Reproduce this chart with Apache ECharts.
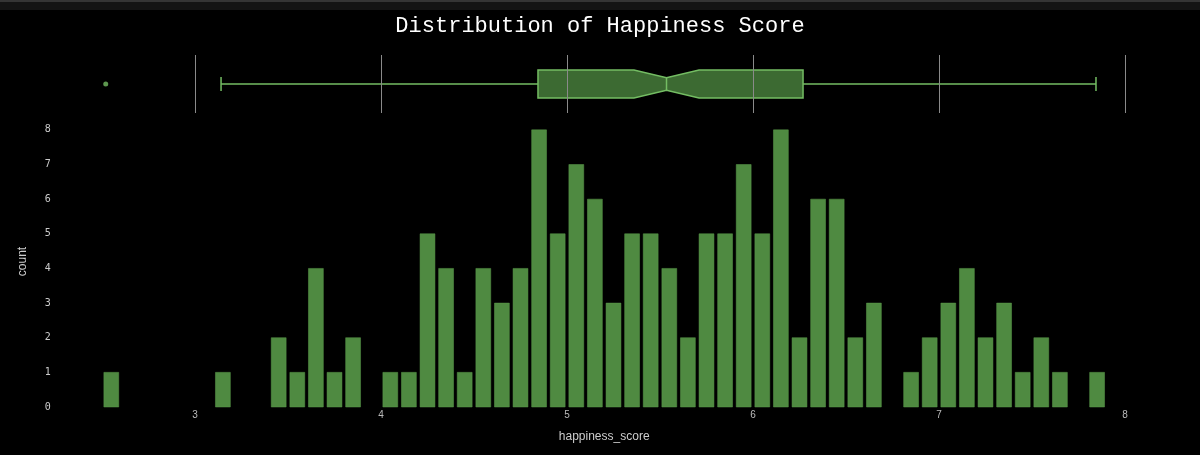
<!DOCTYPE html>
<html>
<head>
<meta charset="utf-8">
<script src="https://cdn.jsdelivr.net/npm/echarts@6/dist/echarts.min.js"></script>
<style>
html,body{margin:0;padding:0;background:#000;}
#chart{width:1200px;height:455px;}
</style>
</head>
<body>
<div id="chart"></div>
<script>
// ---- data ----
const titleText = 'Distribution of Happiness Score';
const xTickValues = [3, 4, 5, 6, 7, 8];
const yTickValues = [0, 1, 2, 3, 4, 5, 6, 7, 8];
const binStarts = [2.5, 2.6, 2.7, 2.8, 2.9, 3.0, 3.1, 3.2, 3.3, 3.4, 3.5, 3.6, 3.7, 3.8, 3.9,
  4.0, 4.1, 4.2, 4.3, 4.4, 4.5, 4.6, 4.7, 4.8, 4.9,
  5.0, 5.1, 5.2, 5.3, 5.4, 5.5, 5.6, 5.7, 5.8, 5.9,
  6.0, 6.1, 6.2, 6.3, 6.4, 6.5, 6.6, 6.7, 6.8, 6.9,
  7.0, 7.1, 7.2, 7.3, 7.4, 7.5, 7.6, 7.7, 7.8];
const binCounts = [1, 0, 0, 0, 0, 0, 1, 0, 0, 2, 1, 4, 1, 2, 0,
  1, 1, 5, 4, 1, 4, 3, 4, 8, 5,
  7, 6, 3, 5, 5, 4, 2, 5, 5, 7,
  5, 8, 2, 6, 6, 2, 3, 0, 1, 2,
  3, 4, 2, 3, 1, 2, 1, 0, 1];
const binWidth = 0.1;
// box stats: [lower whisker, q1, median, q3, upper whisker]
const boxStats = [3.14, 4.844, 5.535, 6.269, 7.844];
const notchBounds = [5.36, 5.71];
const outliers = [2.52];

// ---- chart ----
const chart = echarts.init(document.getElementById('chart'));
const xMin = 2.3, xMax = 8.1;
const gridLeft = 64.8, gridRight = 56.4;
const barColor = '#4f8a41';
const boxFill = '#3c6a32';
const boxStroke = '#74bd63';

const histData = binStarts.map((b, i) => [b, binCounts[i]]);

function renderBar(params, api) {
  const start = api.value(0);
  const cnt = api.value(1);
  if (!cnt) return null;
  const pad = binWidth * 0.1;
  const p0 = api.coord([start + pad, cnt]);
  const p1 = api.coord([start + binWidth - pad, 0]);
  return {
    type: 'rect',
    shape: { x: p0[0], y: p0[1], width: p1[0] - p0[0], height: p1[1] - p0[1] },
    style: { fill: barColor, stroke: '#5a9a4a', lineWidth: 0.5 }
  };
}

function renderBox(params, api) {
  const cy = api.coord([boxStats[2], 0])[1];
  const band = api.size([0, 1])[1];
  const hh = band * 0.24;
  const cap = band * 0.12;
  const nh = band * 0.11;
  const X = v => api.coord([v, 0])[0];
  const xl = X(boxStats[0]), xq1 = X(boxStats[1]), xm = X(boxStats[2]), xq3 = X(boxStats[3]), xu = X(boxStats[4]);
  const n0 = X(notchBounds[0]), n1 = X(notchBounds[1]);
  const lineStyle = { stroke: boxStroke, lineWidth: 1.5, fill: null };
  return {
    type: 'group',
    children: [
      { type: 'line', shape: { x1: xl, y1: cy, x2: xq1, y2: cy }, style: lineStyle },
      { type: 'line', shape: { x1: xq3, y1: cy, x2: xu, y2: cy }, style: lineStyle },
      { type: 'line', shape: { x1: xl, y1: cy - cap, x2: xl, y2: cy + cap }, style: lineStyle },
      { type: 'line', shape: { x1: xu, y1: cy - cap, x2: xu, y2: cy + cap }, style: lineStyle },
      {
        type: 'polygon',
        shape: {
          points: [
            [xq1, cy - hh], [n0, cy - hh], [xm, cy - nh], [n1, cy - hh], [xq3, cy - hh],
            [xq3, cy + hh], [n1, cy + hh], [xm, cy + nh], [n0, cy + hh], [xq1, cy + hh]
          ]
        },
        style: { fill: boxFill, stroke: boxStroke, lineWidth: 1.5 }
      },
      { type: 'line', shape: { x1: xm, y1: cy - nh, x2: xm, y2: cy + nh }, style: lineStyle }
    ]
  };
}

const option = {
  backgroundColor: '#000',
  animation: false,
  title: {
    text: titleText,
    left: 'center',
    top: 10,
    textStyle: { color: '#ffffff', fontFamily: 'Liberation Mono', fontSize: 22, fontWeight: 'normal' }
  },
  graphic: [
    { type: 'rect', left: 0, top: 0, shape: { width: 1200, height: 10 }, style: { fill: '#141414' }, z: 100 },
    { type: 'rect', left: 0, top: 0, shape: { width: 1200, height: 2 }, style: { fill: '#353535' }, z: 101 }
  ],
  grid: [
    { left: gridLeft, right: gridRight, top: 116, bottom: 48 },
    { left: gridLeft, right: gridRight, top: 55, height: 58 }
  ],
  xAxis: [
    {
      type: 'value', gridIndex: 0, min: xMin, max: xMax,
      name: 'happiness_score', nameLocation: 'middle', nameGap: 24,
      nameTextStyle: { color: '#cccccc', fontFamily: 'Liberation Sans', fontSize: 12 },
      axisLine: { show: false }, axisTick: { show: false }, splitLine: { show: false },
      axisLabel: { customValues: xTickValues, color: '#bbbbbb', fontFamily: 'Liberation Sans', fontSize: 10, margin: 3 }
    },
    {
      type: 'value', gridIndex: 1, min: xMin, max: xMax,
      axisLine: { show: false }, axisTick: { show: false }, splitLine: { show: false },
      axisLabel: { show: false }
    }
  ],
  yAxis: [
    {
      type: 'value', gridIndex: 0, min: 0, max: 8.4,
      name: 'count', nameLocation: 'middle', nameGap: 36, nameRotate: 90,
      nameTextStyle: { color: '#cccccc', fontFamily: 'Liberation Sans', fontSize: 12 },
      axisLine: { show: false }, axisTick: { show: false }, splitLine: { show: false },
      axisLabel: { customValues: yTickValues, color: '#cccccc', fontFamily: 'DejaVu Sans Mono', fontSize: 10, margin: 14 }
    },
    {
      type: 'category', gridIndex: 1, data: ['happiness_score'],
      axisLine: { show: false }, axisTick: { show: false }, splitLine: { show: false },
      axisLabel: { show: false }
    }
  ],
  series: [
    {
      type: 'custom', xAxisIndex: 0, yAxisIndex: 0,
      renderItem: renderBar, data: histData, encode: { x: [0], y: 1 }
    },
    {
      type: 'custom', xAxisIndex: 1, yAxisIndex: 1,
      renderItem: renderBox, data: [[boxStats[2], 0]], encode: { x: 0, y: 1 }, z: 3,
      markLine: {
        silent: true, symbol: 'none', label: { show: false },
        lineStyle: { color: '#8a8a8a', type: 'solid', width: 1 },
        emphasis: { disabled: true },
        data: xTickValues.map(v => ({ xAxis: v }))
      }
    },
    {
      type: 'scatter', xAxisIndex: 1, yAxisIndex: 1,
      data: outliers.map(v => [v, 0]), symbolSize: 5,
      itemStyle: { color: boxStroke }
    }
  ]
};
chart.setOption(option);
</script>
</body>
</html>
